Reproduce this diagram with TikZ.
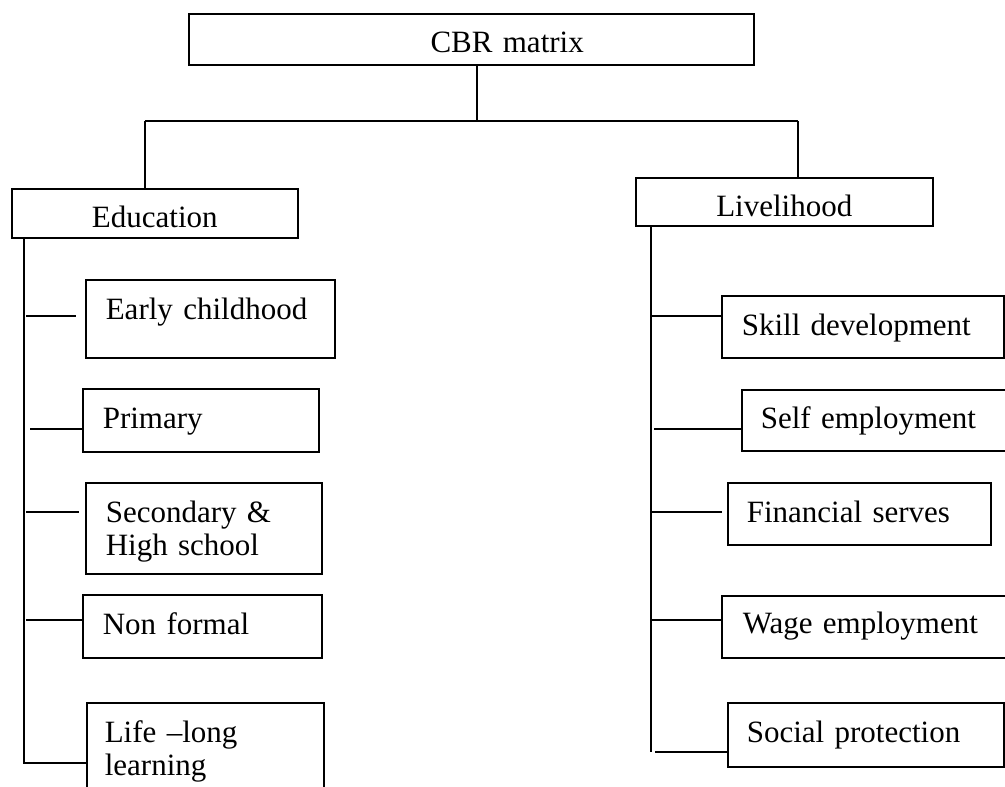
\documentclass[tikz,border=0pt]{standalone}
\usepackage{fontspec}
\setmainfont{Liberation Serif}
\usetikzlibrary{calc,positioning}

\begin{document}
\begin{tikzpicture}
[x=1pt, y=-1pt,
box/.style={rectangle, draw, line width=1.6pt, anchor=north west, inner ysep=0pt, align=left, font=\fontsize{31}{33}\selectfont},
link/.style={line width=1.4pt}]

	\useasboundingbox (0,0) rectangle (1005,787);

	% top level
	\node (cbr) at (188,13) [box, inner xsep=170pt, text width=225pt, align=right, text height=39pt, text depth=12pt]{CBR matrix};

	\node (edu) at (11,188) [box, inner xsep=5pt, text width=276pt, align=center, text height=39pt, text depth=10pt]{Education};
	\node (live) at (635,177) [box, inner xsep=5pt, text width=287pt, align=center, text height=39pt, text depth=9pt]{Livelihood};

	% education
	\node (ec) at (85,279) [box, inner xsep=20pt, text width=209pt, text height=40pt, text depth=38pt]{Early childhood};
	\node (pri) at (82,388) [box, inner xsep=20pt, text width=196pt, text height=40pt, text depth=23pt]{Primary};
	\node (sec) at (85,482) [box, inner xsep=20pt, text width=196pt, text height=40pt, text depth=51pt]{Secondary \&\\High school};
	\node (nf) at (82,594) [box, inner xsep=20pt, text width=199pt, text height=40pt, text depth=23pt]{Non formal};
	\node (life) at (86,702) [box, inner xsep=18pt, text width=201pt, text height=40pt, text depth=58pt]{Life --long\\learning};

	% livelihood
	\node (skill) at (721,295) [box, inner xsep=20pt, text width=242pt, text height=40pt, text depth=22pt]{Skill development};
	\node (self) at (741,389) [box, inner xsep=19pt, text width=233pt, text height=39pt, text depth=22pt]{Self employment};
	\node (fin) at (727,482) [box, inner xsep=19pt, text width=225pt, text height=40pt, text depth=22pt]{Financial serves};
	\node (wage) at (721,595) [box, inner xsep=21pt, text width=249pt, text height=38pt, text depth=24pt]{Wage employment};
	\node (soc) at (727,702) [box, inner xsep=19pt, text width=238pt, text height=40pt, text depth=24pt]{Social protection};

	\coordinate (hub) at (477,121);
	\coordinate (el) at (145,121);
	\coordinate (lr) at (798,121);

	\draw[link] (hub |- cbr.south) -- (hub);
	\draw[link] (el) -- (lr);
	\draw[link] (el) -- (el |- edu.north);
	\draw[link] (lr) -- (lr |- live.north);

	% education spine
	\coordinate (lspine) at (24,763);
	\coordinate (b1) at (26,316);
	\coordinate (b2) at (30,429);
	\coordinate (b3) at (26,512);
	\coordinate (b4) at (26,620);

	\draw[link] (lspine |- edu.south) -- (lspine) -- (lspine -| life.west);
	\draw[link, shorten >=9pt] (b1) -- (b1 -| ec.west);
	\draw[link] (b2) -- (b2 -| pri.west);
	\draw[link, shorten >=6pt] (b3) -- (b3 -| sec.west);
	\draw[link] (b4) -- (b4 -| nf.west);

	% livelihood spine
	\coordinate (rspine) at (651,752);
	\coordinate (r1) at (651,316);
	\coordinate (r2) at (654,429);
	\coordinate (r3) at (651,512);
	\coordinate (r4) at (651,620);
	\coordinate (r5) at (655,752);

	\draw[link] (rspine |- live.south) -- (rspine);
	\draw[link] (r1) -- (r1 -| skill.west);
	\draw[link] (r2) -- (r2 -| self.west);
	\draw[link, shorten >=5pt] (r3) -- (r3 -| fin.west);
	\draw[link] (r4) -- (r4 -| wage.west);
	\draw[link] (r5) -- (r5 -| soc.west);

\end{tikzpicture}
\end{document}
